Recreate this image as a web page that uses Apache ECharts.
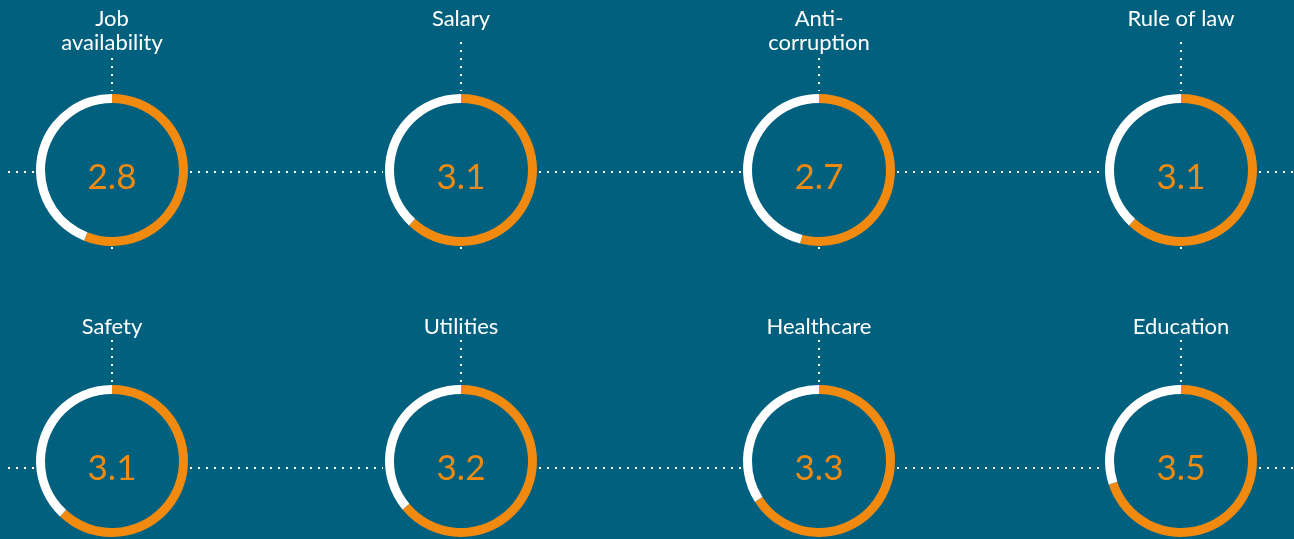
<!DOCTYPE html>
<html>
<head>
<meta charset="utf-8">
<script src="https://cdn.jsdelivr.net/npm/echarts@6/dist/echarts.min.js"></script>
<style>
  html, body { margin: 0; padding: 0; background: #00607e; }
  #chart { width: 1294px; height: 539px; }
</style>
</head>
<body>
<div id="chart"></div>
<script>
// 各项评分 (满分 5)
var categories = ['Job\navailability', 'Salary', 'Anti-\ncorruption', 'Rule of law',
                  'Safety', 'Utilities', 'Healthcare', 'Education'];
var scores = [2.8, 3.1, 2.7, 3.1, 3.1, 3.2, 3.3, 3.5];
var scaleMax = 5;

// 布局
var colX = [112, 461, 819, 1181];
var rowY = [170, 461];
var lineY = [172, 468];      // 横向虚线
var titleTop = [7, 315];
var dotStart = [42, 340];    // 单行标题下竖线起点
var rOut = 76, rIn = 67;

var orange = '#f38a10';
var bg = '#00607e';
var font = 'Lato, "Open Sans", sans-serif';

var chart = echarts.init(document.getElementById('chart'));

var series = [];
var graphic = [];

function dotLine(x1, y1, x2, y2) {
    graphic.push({
        type: 'line', z: 1, silent: true,
        shape: { x1: x1, y1: y1, x2: x2, y2: y2 },
        style: { stroke: '#fff', lineWidth: 2, lineDash: [2, 6] }
    });
}

for (var i = 0; i < categories.length; i++) {
    var row = Math.floor(i / 4), col = i % 4;
    var cx = colX[col], cy = rowY[row];
    var lines = categories[i].split('\n').length;

    series.push({
        type: 'pie',
        center: [cx, cy],
        radius: [rIn, rOut],
        startAngle: 90,
        clockwise: true,
        silent: true,
        animation: false,
        labelLine: { show: false },
        label: { show: false },
        labelLayout: { dy: 8 },
        data: [
            {
                value: scores[i],
                itemStyle: { color: orange },
                label: {
                    show: true, position: 'center',
                    formatter: scores[i].toFixed(1),
                    color: orange, fontSize: 35, fontFamily: font
                }
            },
            { value: scaleMax - scores[i], itemStyle: { color: '#fff' } }
        ]
    });

    // 标题
    graphic.push({
        type: 'text', z: 5,
        x: cx, y: titleTop[row],
        style: {
            text: categories[i], fill: '#fff', font: '22px ' + font,
            align: 'center', verticalAlign: 'top', lineHeight: 24
        }
    });

    // 竖向虚线
    var ys = dotStart[row] + (lines > 1 ? 16 : 0);
    dotLine(cx, ys, cx, cy - rOut - 3);
    if (row === 0) dotLine(cx, cy + rOut + 1, cx, cy + rOut + 4);

    // 横向虚线
    var leftEnd = col === 0 ? 8 : colX[col - 1] + rOut + 2;
    dotLine(leftEnd, lineY[row], cx - rOut - 2, lineY[row]);
    if (col === 3) dotLine(cx + rOut + 2, lineY[row], 1294, lineY[row]);
}

chart.setOption({
    backgroundColor: bg,
    animation: false,
    series: series,
    graphic: graphic
});
</script>
</body>
</html>
